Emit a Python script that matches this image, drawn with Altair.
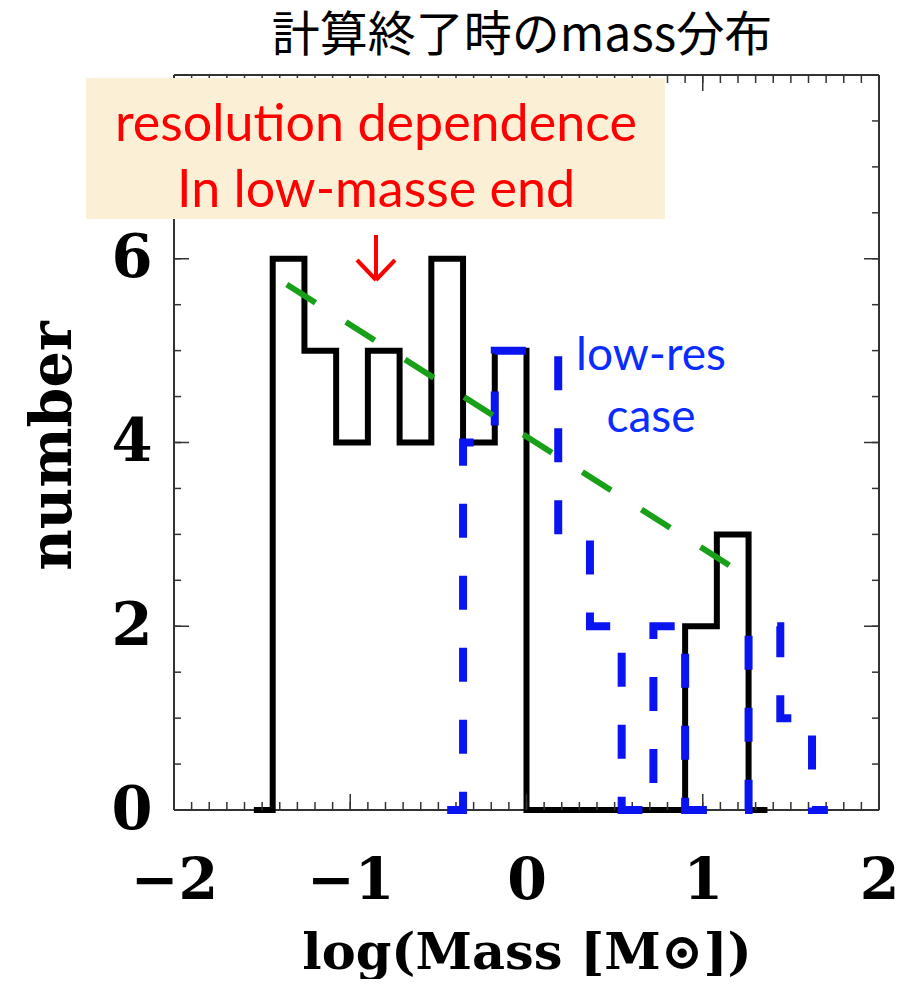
import altair as alt
import pandas as pd
import numpy as np

# ---- data ----
# high-resolution run (black solid histogram): bin left edges and counts (step-after)
black_x = [-1.53, -1.44, -1.26, -1.08, -0.90, -0.72, -0.54, -0.36, -0.18, 0.0, 0.90, 1.08, 1.26, 1.35]
black_n = [0, 6, 5, 4, 5, 4, 6, 4, 5, 0, 2, 3, 0, 0]
# low-resolution run (blue dashed histogram)
blue_x = [-0.45, -0.36, -0.18, 0.0, 0.18, 0.36, 0.54, 0.72, 0.90, 1.26, 1.44, 1.62, 1.71]
blue_n = [0, 4, 5, 5, 3, 2, 0, 2, 0, 2, 1, 0, 0]
# green dashed trend line
fit_x = [-1.36, 1.17]
fit_n = [5.72, 2.64]

x_major = [-2, -1, 0, 1, 2]
y_labels = [0, 2, 4, 6]
y_major = [0, 2, 4, 6, 8]
x_minor = [round(v, 2) for v in np.arange(-2.0, 2.0001, 0.1)]
y_minor = [round(v, 2) for v in np.arange(0.0, 8.0001, 0.5)]

title_text = "計算終了時のmass分布"
xlabel = "log(Mass [M⊙])"
ylabel = "number"
note_lines = ["resolution dependence", "In low-masse end"]
blue_lines = ["low-res", "case"]

W, H = 705, 735

xs = alt.Scale(domain=[-2, 2], nice=False, zero=False)
ys = alt.Scale(domain=[0, 8], nice=False, zero=False)

black_df = pd.DataFrame({"x": black_x, "y": black_n})
blue_df = pd.DataFrame({"x": blue_x, "y": blue_n})
fit_df = pd.DataFrame({"x": fit_x, "y": fit_n})
one = pd.DataFrame({"k": [0]})

serif = "DejaVu Serif"

x_axis = alt.Axis(
    values=x_major, format="d", labelFont=serif, labelFontWeight="bold", labelFontSize=57,
    labelColor="black", labelPadding=88, labelBaseline="alphabetic", labelFlush=False,
    labelOverlap=False, ticks=False, tickSize=0, domain=False, grid=False,
    title=xlabel, titleFont=serif, titleFontSize=51, titleFontWeight="bold",
    titleColor="black", titleY=158, titleBaseline="alphabetic",
)
y_axis = alt.Axis(
    values=y_labels, format="d", labelFont=serif, labelFontWeight="bold", labelFontSize=59,
    labelColor="black", labelPadding=22, labelBaseline="middle", labelFlush=False,
    labelOverlap=False, ticks=False, tickSize=0, domain=False, grid=False,
    title=ylabel, titleFont=serif, titleFontSize=57, titleFontWeight="bold",
    titleColor="black", titleX=-104, titleY=H / 2 + 3, titleAngle=270, titleBaseline="alphabetic",
)


def X():
    return alt.X("x:Q", scale=xs, axis=x_axis, title=xlabel)


def Y():
    return alt.Y("y:Q", scale=ys, axis=y_axis, title=ylabel)


layers = []
frame_col = "#333333"

# frame
layers.append(alt.Chart(one).mark_rule(color=frame_col, strokeWidth=2).encode(
    x=alt.value(0), x2=alt.value(W), y=alt.value(0)))
layers.append(alt.Chart(one).mark_rule(color=frame_col, strokeWidth=2).encode(
    x=alt.value(0), x2=alt.value(W), y=alt.value(H)))
layers.append(alt.Chart(one).mark_rule(color=frame_col, strokeWidth=2).encode(
    x=alt.value(0), y=alt.value(0), y2=alt.value(H)))
layers.append(alt.Chart(one).mark_rule(color=frame_col, strokeWidth=2).encode(
    x=alt.value(W), y=alt.value(0), y2=alt.value(H)))

# black histogram (carries the axes)
layers.append(alt.Chart(black_df).mark_line(
    interpolate="step-after", color="black", strokeWidth=6, strokeJoin="miter", strokeCap="square"
).encode(x=X(), y=Y()))

# inward ticks on all four sides
xt_minor = pd.DataFrame({"x": x_minor})
xt_major = pd.DataFrame({"x": x_major})
yt_minor = pd.DataFrame({"y": y_minor})
yt_major = pd.DataFrame({"y": y_major})
for df, ln in [(xt_minor, 8), (xt_major, 16)]:
    layers.append(alt.Chart(df).mark_rule(color=frame_col, strokeWidth=1.5).encode(
        x=X(), y=alt.value(H), y2=alt.value(H - ln)))
    layers.append(alt.Chart(df).mark_rule(color=frame_col, strokeWidth=1.5).encode(
        x=X(), y=alt.value(0), y2=alt.value(ln)))
for df, ln in [(yt_minor, 7), (yt_major, 15)]:
    layers.append(alt.Chart(df).mark_rule(color=frame_col, strokeWidth=1.5).encode(
        y=Y(), x=alt.value(0), x2=alt.value(ln)))
    layers.append(alt.Chart(df).mark_rule(color=frame_col, strokeWidth=1.5).encode(
        y=Y(), x=alt.value(W), x2=alt.value(W - ln)))

# blue dashed histogram
layers.append(alt.Chart(blue_df).mark_line(
    interpolate="step-after", color="#0a14f0", strokeWidth=8, strokeDash=[34, 38], strokeJoin="miter"
).encode(x=X(), y=Y()))

# green dashed trend line
layers.append(alt.Chart(fit_df).mark_line(
    color="#18a018", strokeWidth=6, strokeDash=[34, 36]
).encode(x=X(), y=Y()))

# annotation box
layers.append(alt.Chart(one).mark_rect(color="#fbefd6").encode(
    x=alt.value(-88), x2=alt.value(491), y=alt.value(3), y2=alt.value(144)))
for i, t in enumerate(note_lines):
    layers.append(alt.Chart(one).mark_text(
        text=t, font="Lato", fontSize=52, color="#ff0000", align="center", baseline="alphabetic"
    ).encode(x=alt.value(202), y=alt.value(66 + 66 * i)))

# red arrow
layers.append(alt.Chart(one).mark_rule(color="#ff0000", strokeWidth=4).encode(
    x=alt.value(202), y=alt.value(160), y2=alt.value(205)))
layers.append(alt.Chart(one).mark_rule(color="#ff0000", strokeWidth=4).encode(
    x=alt.value(183), y=alt.value(185), x2=alt.value(202), y2=alt.value(205)))
layers.append(alt.Chart(one).mark_rule(color="#ff0000", strokeWidth=4).encode(
    x=alt.value(221), y=alt.value(185), x2=alt.value(202), y2=alt.value(205)))

# blue label
for i, t in enumerate(blue_lines):
    layers.append(alt.Chart(one).mark_text(
        text=t, font="Lato", fontSize=46, color="#0a2cff", align="center", baseline="alphabetic"
    ).encode(x=alt.value(477), y=alt.value(295 + 62 * i)))

# chart title drawn as text above the frame
layers.append(alt.Chart(one).mark_text(
    text=title_text, font="Noto Sans CJK JP", fontSize=48, color="black",
    align="center", baseline="alphabetic"
).encode(x=alt.value(348), y=alt.value(-24)))

chart = alt.layer(*layers).properties(
    width=W, height=H,
    autosize=alt.AutoSizeParams(type="none"),
    padding={"left": 166, "top": 67, "right": 20, "bottom": 169},
).configure_view(strokeWidth=0).configure(background="white")

chart.save("out.html", embed_options={"renderer": "svg", "actions": False})
